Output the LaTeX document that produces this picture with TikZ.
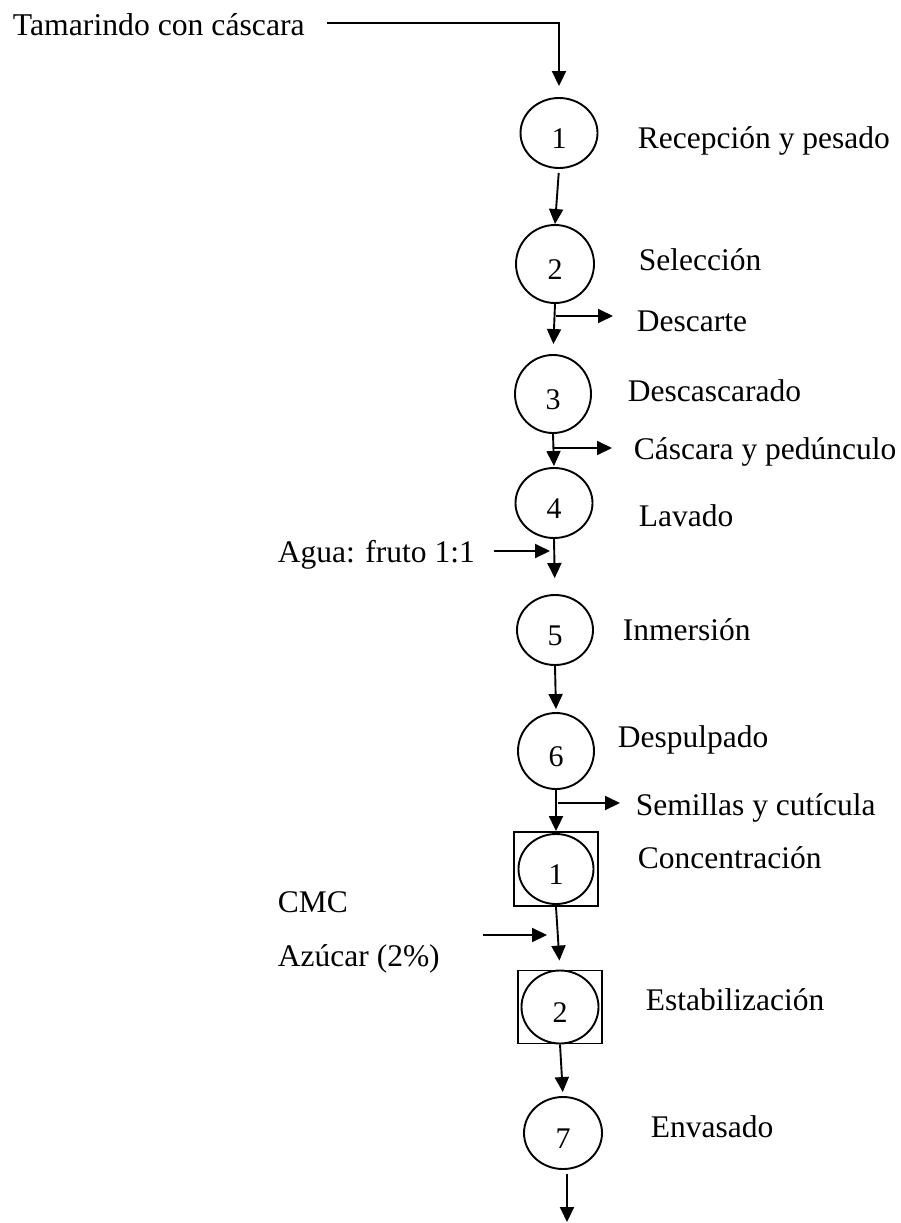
\documentclass[tikz,border=0pt]{standalone}
\usepackage{fontspec}
\setmainfont{Liberation Serif}
\usetikzlibrary{arrows.meta,shapes.geometric}
\newcommand{\dg}[1]{\raisebox{-5pt}[20pt][0pt]{#1}}
\begin{document}
\begin{tikzpicture}[x=1pt,y=-1pt, line width=1.9pt,
  proc/.style={ellipse, draw, inner sep=0pt, font=\fontsize{30}{36}\selectfont},
  box/.style={rectangle, draw, inner sep=0pt},
  lbl/.style={anchor=base west, inner sep=0pt, font=\fontsize{31.5}{38}\selectfont},
  arr/.style={-{Triangle[length=15pt,width=14pt]}}]
\useasboundingbox (0,0) rectangle (900,1223);

% process nodes
\node[proc, minimum width=77pt, minimum height=70pt] (c1) at (559,133) {\dg{1}};
\node[proc, minimum width=78pt, minimum height=78pt] (c2) at (555,264) {\dg{2}};
\node[proc, minimum width=76pt, minimum height=78pt] (c3) at (553,394) {\dg{3}};
\node[proc, minimum width=77pt, minimum height=70pt] (c4) at (554,503) {\dg{4}};
\node[proc, minimum width=76pt, minimum height=70pt] (c5) at (555,630) {\dg{5}};
\node[proc, minimum width=76pt, minimum height=76pt] (c6) at (556,751) {\dg{6}};
\node[box, minimum width=84pt, minimum height=74pt] (s1) at (556,869) {};
\node[proc, minimum width=75pt, minimum height=70pt] (k1) at (556,869) {\dg{1}};
\node[box, minimum width=84pt, minimum height=73pt] (s2) at (560,1007) {};
\node[proc, minimum width=77pt, minimum height=73pt] (k2) at (560,1007) {\dg{2}};
\node[proc, minimum width=78pt, minimum height=72pt] (c7) at (563,1133) {\dg{7}};

% labels
\node[lbl, font=\fontsize{31.7}{38}\selectfont] (t) at (12,36) {Tamarindo con cáscara};
\node[lbl] (l1) at (637,148) {Recepción y pesado};
\node[lbl] (l2) at (638,270) {Selección};
\node[lbl] (d2) at (636,331) {Descarte};
\node[lbl] (l3) at (627,401) {Descascarado};
\node[lbl] (d3) at (633,459) {Cáscara y pedúnculo};
\node[lbl] (l4) at (638,526) {Lavado};
\node[lbl] (agua) at (277,562) {Agua: fruto 1:1};
\node[lbl] (l5) at (622,640) {Inmersión};
\node[lbl] (l6) at (617,747) {Despulpado};
\node[lbl] (d6) at (635,815) {Semillas y cutícula};
\node[lbl] (l8) at (637,868) {Concentración};
\node[lbl] (cmc) at (277,912) {CMC};
\node[lbl] (azu) at (277,966) {Azúcar (2\%)};
\node[lbl] (l9) at (645,1010) {Estabilización};
\node[lbl] (l7) at (650,1137) {Envasado};

% coordinates
\coordinate (t0) at (327,23);
\coordinate (b2) at (556,316);
\coordinate (b3) at (554,448);
\coordinate (a1) at (550,551);
\coordinate (b6) at (558,803);
\coordinate (m0) at (483,935);
\coordinate (m1) at (547,935);
\coordinate (e) at (567,1222);

% connectors
\draw[arr, shorten >=11pt] (t0) -| (c1.north);
\draw[arr, shorten <=4pt] (c1.south) -- (c2.north);
\draw[arr, shorten >=10pt] (c2.south) -- (c3.north);
\draw[arr, shorten >=23pt] (b2) -- (b2 -| d2.west);
\draw[arr, shorten >=1pt] (c3.south) -- (c4.north);
\draw[arr, shorten >=21pt] (b3) -- (b3 -| d3.west);
\draw[arr, shorten >=16pt] (c4.south) -- (c5.north);
\draw[arr, shorten <=18pt] (agua.east |- a1) -- (a1);
\draw[arr, shorten >=3pt] (c5.south) -- (c6.north);
\draw[arr] (c6.south) -- (s1.north);
\draw[arr, shorten >=15pt] (b6) -- (b6 -| d6.west);
\draw[arr, shorten >=9pt] (s1.south) -- (s2.north);
\draw[arr] (m0) -- (m1);
\draw[arr, shorten >=4pt] (s2.south) -- (c7.north);
\draw[arr, shorten <=4pt] (c7.south -| e) -- (e);
\end{tikzpicture}
\end{document}
